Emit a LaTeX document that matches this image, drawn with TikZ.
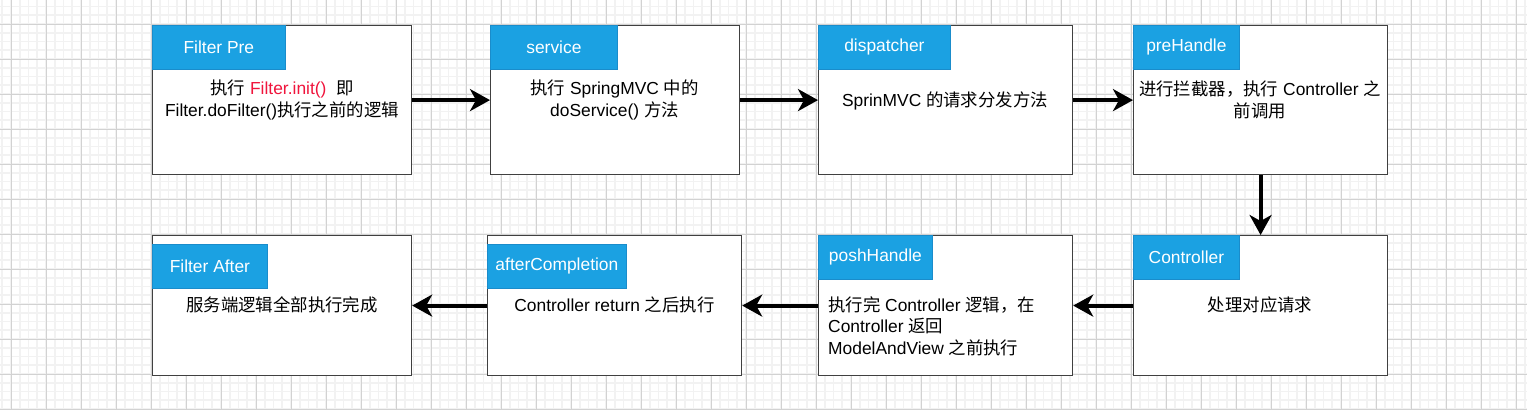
\documentclass[tikz,border=0pt]{standalone}
\usepackage{fontspec}
\setmainfont{Liberation Sans}
\newfontfamily\cjk{Noto Sans CJK SC}
\usetikzlibrary{arrows.meta}
\definecolor{hdrblue}{HTML}{1BA1E2}
\definecolor{hdrline}{HTML}{1A8CCB}
\definecolor{fpred}{HTML}{F0143C}
\definecolor{gridmajor}{HTML}{D2D2D2}
\definecolor{gridminor}{HTML}{F2F2F2}
\definecolor{boxline}{HTML}{404040}
\newcommand{\zh}[1]{{\cjk #1}}
\tikzset{
  gridminorline/.style={draw=gridminor, line width=1.6pt},
  gridmajorline/.style={draw=gridmajor, line width=1pt},
  stagebox/.style={draw=boxline, line width=1.2pt, fill=white, anchor=north west, inner sep=0pt, minimum height=149pt},
  stagebox2/.style={stagebox, minimum height=140pt},
  hdr/.style={draw=hdrline, line width=0.8pt, fill=hdrblue, text=white, anchor=north west, inner sep=0pt, minimum height=44pt, font=\fontsize{17.4}{21}\selectfont},
  txt/.style={inner sep=0pt, align=center, font=\fontsize{17.4}{21.5}\selectfont},
  arr/.style={line width=4pt, -{Stealth[length=20pt,width=22pt,inset=6pt]}}
}
\begin{document}
\begin{tikzpicture}[x=1pt,y=-1pt]
\useasboundingbox (0,0) rectangle (1527,410);
\fill[white] (0,0) rectangle (1527,410);
% grid
\foreach \i in {0,...,174} { \draw[gridminorline] ({2.25+8.75*\i},0) -- ({2.25+8.75*\i},410); }
\foreach \j in {0,...,46} { \draw[gridminorline] (0,{6.5+8.75*\j}) -- (1527,{6.5+8.75*\j}); }
\foreach \i in {0,...,43} { \draw[gridmajorline] ({11+35*\i},0) -- ({11+35*\i},410); }
\foreach \j in {0,...,11} { \draw[gridmajorline] (0,{24+35*\j}) -- (1527,{24+35*\j}); }

% top row boxes
\node[stagebox, minimum width=259pt] (A) at (152,25) {};
\node[stagebox, minimum width=249pt] (B) at (490,25) {};
\node[stagebox, minimum width=254pt] (C) at (818,25) {};
\node[stagebox, minimum width=254pt] (D) at (1133,25) {};
% bottom row boxes
\node[stagebox2, minimum width=254pt] (E) at (1133,235) {};
\node[stagebox2, minimum width=254pt] (F) at (818,235) {};
\node[stagebox2, minimum width=254pt] (G) at (487,235) {};
\node[stagebox2, minimum width=259pt] (H) at (152,235) {};

% headers
\node[hdr, minimum width=133pt] (Ah) at (A.north west) {Filter Pre};
\node[hdr, minimum width=127pt] (Bh) at (B.north west) {service};
\node[hdr, minimum width=132pt] (Ch) at (C.north west) {dispatcher};
\node[hdr, minimum width=106pt] (Dh) at (D.north west) {preHandle};
\node[hdr, minimum width=106pt] (Eh) at (E.north west) {Controller};
\node[hdr, minimum width=114pt] (Fh) at (F.north west) {poshHandle};
\node[hdr, minimum width=139pt] (Gh) at ([yshift=-9pt]G.north west) {afterCompletion};
\node[hdr, minimum width=115pt] (Hh) at ([yshift=-9pt]H.north west) {Filter After};

% body texts
\node[txt] (At) at (282,100) {\zh{执行} \textcolor{fpred}{Filter.init()}\ \ \zh{即}\\Filter.doFilter()\zh{执行之前的逻辑}};
\node[txt] (Bt) at (614.5,100) {\zh{执行} SpringMVC \zh{中的}\\doService() \zh{方法}};
\node[txt] (Ct) at (945,101) {SprinMVC \zh{的请求分发方法}};
\node[txt] (Dt) at (1260,100) {\zh{进行拦截器，执行} Controller \zh{之}\\\zh{前调用}};
\node[txt] (Et) at (1260,305) {\zh{处理对应请求}};
\node[txt, align=left, anchor=west] (Ft) at (828,326) {\zh{执行完} Controller \zh{逻辑，在}\\Controller \zh{返回}\\ModelAndView \zh{之前执行}};
\node[txt] (Gt) at (614.5,305) {Controller return \zh{之后执行}};
\node[txt] (Ht) at (282,305) {\zh{服务端逻辑全部执行完成}};

% connectors
\draw[arr] (A.east) -- (B.west);
\draw[arr] (B.east) -- (C.west);
\draw[arr] (C.east) -- (D.west);
\draw[arr] (D.south) -- (E.north);
\draw[arr] (E.west) -- (F.east);
\draw[arr] (F.west) -- (G.east);
\draw[arr] (G.west) -- (H.east);
\end{tikzpicture}
\end{document}
